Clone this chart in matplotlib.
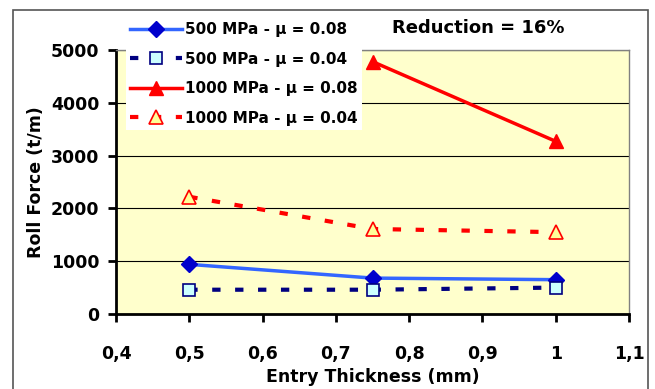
import matplotlib.pyplot as plt
from matplotlib.patches import Rectangle
from matplotlib.ticker import FuncFormatter, MultipleLocator

plt.rcParams['font.family'] = ['DejaVu Sans']
plt.rcParams['font.weight'] = 'bold'

# data
thick = [0.5, 0.75, 1.0]
f500_08 = [940, 680, 650]
f500_04 = [460, 460, 500]
thick_1000_08 = [0.75, 1.0]
f1000_08 = [4780, 3270]
f1000_04 = [2220, 1610, 1550]

fig = plt.figure(figsize=(6.55, 3.89), dpi=100)
ax = fig.add_axes([116 / 655, 1 - 314 / 389, (629 - 116) / 655, (314 - 50) / 389])
ax.set_facecolor('#ffffcc')

# outer frame of the chart object
fig.patches.append(Rectangle((13 / 655, -0.05), (648 - 13) / 655, 1.05 - 10 / 389,
                             transform=fig.transFigure, fill=False,
                             edgecolor='#555555', lw=1.2))

ax.plot(thick, f500_08, color='#3366ff', lw=2.5, marker='D', ms=8,
        mfc='#0000cc', mec='#0000cc', label='500 MPa - μ = 0.08', zorder=3)
ax.plot(thick, f500_04, color='#000080', lw=3, ls=(0, (2, 3.5)), marker='s', ms=9,
        mfc='#ccffff', mec='#000080', mew=1.2, label='500 MPa - μ = 0.04', zorder=3)
ax.plot(thick_1000_08, f1000_08, color='#ff0000', lw=2.5, marker='^', ms=10,
        mfc='#ff0000', mec='#ff0000', label='1000 MPa - μ = 0.08', zorder=3)
ax.plot(thick, f1000_04, color='#ff0000', lw=3, ls=(0, (2, 3.5)), marker='^', ms=10,
        mfc='#ffff99', mec='#ff0000', mew=1.2, label='1000 MPa - μ = 0.04', zorder=3)

ax.set_xlim(0.4, 1.1)
ax.set_ylim(0, 5000)
ax.xaxis.set_major_locator(MultipleLocator(0.1))
ax.yaxis.set_major_locator(MultipleLocator(1000))
ax.xaxis.set_major_formatter(FuncFormatter(
    lambda v, p: ('%g' % round(v, 1)).replace('.', ',')))
ax.yaxis.grid(True, color='black', lw=0.8)
ax.set_axisbelow(True)

for s in ['left', 'bottom']:
    ax.spines[s].set_linewidth(2)
    ax.spines[s].set_color('black')
for s in ['top', 'right']:
    ax.spines[s].set_linewidth(1)
    ax.spines[s].set_color('#808080')

ax.tick_params(axis='both', direction='out', width=2, length=6,
               labelsize=12.5, pad=6)
ax.tick_params(axis='x', pad=16)

ax.set_xlabel('Entry Thickness (mm)', fontsize=12.5, fontweight='bold', labelpad=4)
ax.set_ylabel('Roll Force (t/m)', fontsize=12.5, fontweight='bold', labelpad=4)

fig.text(392 / 655, 1 - 28 / 389, 'Reduction = 16%', fontsize=13,
         fontweight='bold', va='center', ha='left')

leg = ax.legend(loc='upper left', bbox_to_anchor=(118 / 655, 1 - 10 / 389),
                bbox_transform=fig.transFigure, frameon=True, fancybox=False,
                framealpha=1, edgecolor='white', fontsize=11, handlelength=3.4,
                borderpad=0.3, labelspacing=0.95, handletextpad=0.2)
leg.get_frame().set_linewidth(0)
leg.set_zorder(5)

fig.savefig('out.png', dpi=100)
